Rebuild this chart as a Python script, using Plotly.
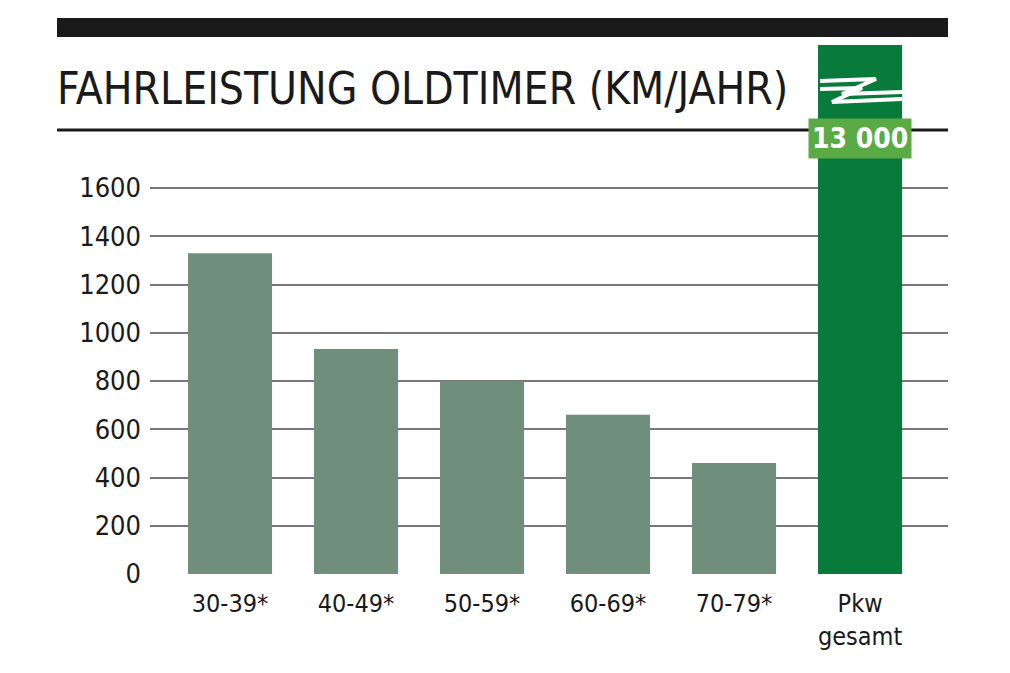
import plotly.graph_objects as go

categories = ["30-39*", "40-49*", "50-59*", "60-69*", "70-79*", "Pkw<br>gesamt"]
values = [1330, 933, 800, 660, 460, 13000]
y_ticks = [0, 200, 400, 600, 800, 1000, 1200, 1400, 1600]

AXIS_TOP = 2193  # axis is cut; the Pkw bar runs off the scale
shown = [min(v, AXIS_TOP) for v in values]
colors = ["#6f8e7b"] * 5 + ["#087a3a"]
FONT = "Liberation Sans Narrow, DejaVu Sans Condensed, Arial Narrow, sans-serif"

OFF = 8  # page margin around the figure
W, H = 1010, 673
L, T = 150 - OFF, 45 - OFF
R = W - (948 - OFF)
B = H - (574 - OFF)
def px(x): return (x - OFF - L) / (W - L - R)
def py(y): return (H - B - (y - OFF)) / (H - T - B)

fig = go.Figure(go.Bar(x=list(range(6)), y=shown, marker_color=colors,
                       marker_line_width=0, width=0.667))

def zig(pts):
    return "M " + " L ".join(f"{px(a)},{py(b)}" for a, b in pts)

shapes = [
    dict(type="rect", xref="paper", yref="paper", x0=px(57), x1=px(948),
         y0=py(37), y1=py(18), fillcolor="#1a1a1a", line_width=0, layer="below"),
    dict(type="line", xref="paper", yref="paper", x0=px(57), x1=px(948),
         y0=py(130), y1=py(130), line=dict(color="#1a1a1a", width=3), layer="below"),
    # break mark on the Pkw bar
    dict(type="path", xref="paper", yref="paper", line=dict(color="white", width=4),
         path=zig([(820, 81), (876, 79), (842, 94), (902, 92)])),
    dict(type="path", xref="paper", yref="paper", line=dict(color="white", width=4),
         path=zig([(820, 89), (862, 88), (832, 102), (902, 99)])),
]

fig.update_layout(
    width=W, height=H, plot_bgcolor="white", paper_bgcolor="white",
    margin=dict(l=L, r=R, t=T, b=B), showlegend=False,
    font=dict(family=FONT, color="#1a1a1a"),
    xaxis=dict(tickmode="array", tickvals=list(range(6)), ticktext=categories,
               range=[-0.635, 5.698], showgrid=False, zeroline=False,
               tickfont=dict(size=25), ticks="", ticklen=0, ticklabelstandoff=12),
    yaxis=dict(range=[0, AXIS_TOP], tickvals=y_ticks, showgrid=True,
               gridcolor="#777777", gridwidth=2, zeroline=False,
               tickfont=dict(size=27), ticklabelstandoff=8),
    shapes=shapes,
    annotations=[
        dict(text="FAHRLEISTUNG OLDTIMER (KM/JAHR)", xref="paper", yref="paper",
             x=px(55), y=py(88), xanchor="left", yanchor="middle", showarrow=False,
             font=dict(size=44, family=FONT, color="#1a1a1a")),
        dict(text=f"<b>{values[5]:,}</b>".replace(",", " "), xref="x", yref="paper",
             x=5, y=py(138), xanchor="center", yanchor="middle", showarrow=False,
             bgcolor="#5aab46", borderpad=3,
             font=dict(size=28, family=FONT, color="white")),
    ],
)
fig.write_html("out.html")
